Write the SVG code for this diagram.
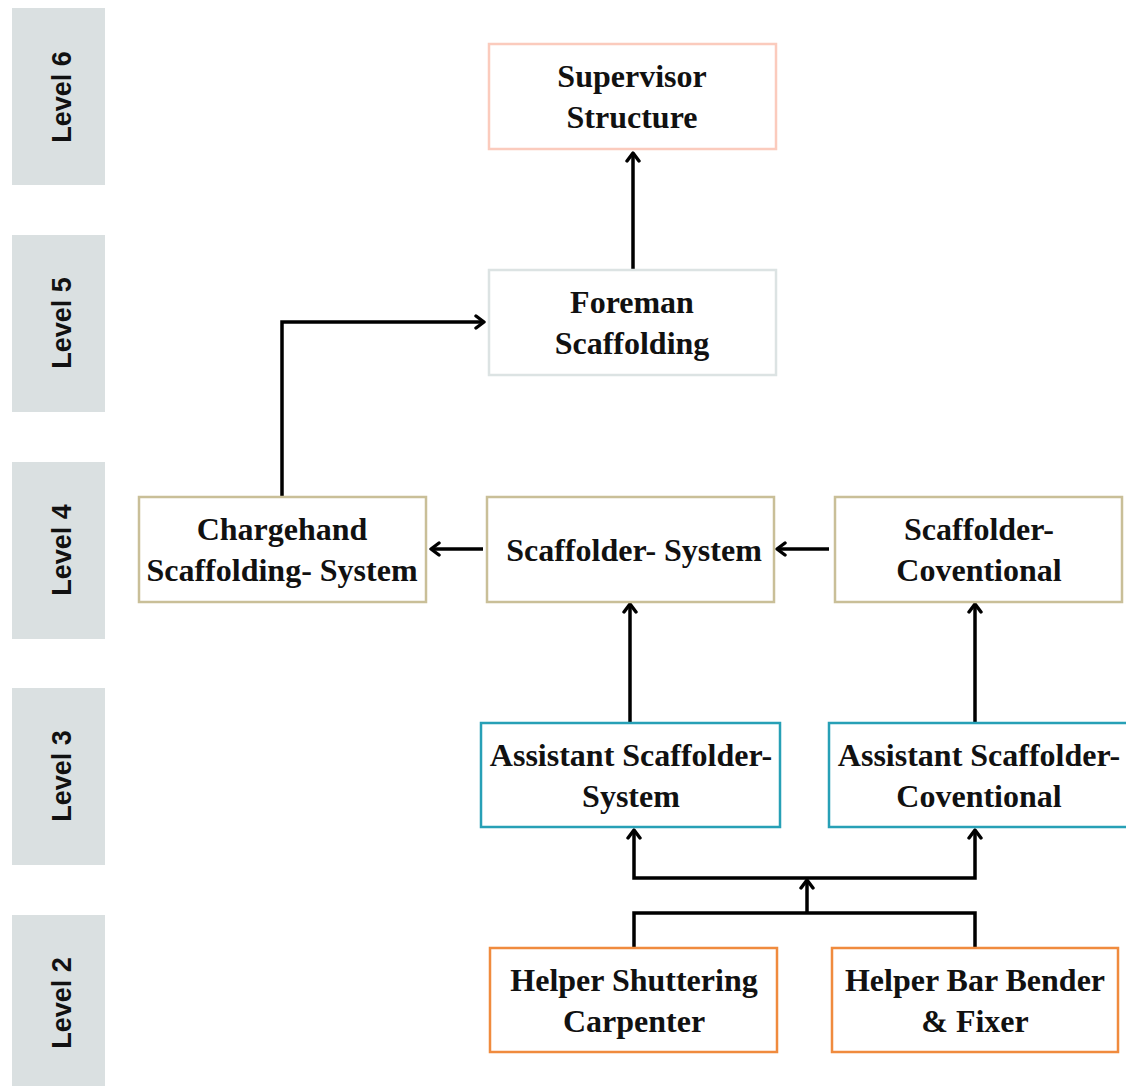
<svg xmlns="http://www.w3.org/2000/svg" width="1126" height="1086" viewBox="0 0 1126 1086">
<style>
.band{fill:#dae0e1}
.lvl{font-family:"Liberation Sans",Arial,sans-serif;font-weight:bold;font-size:27px;fill:#111;text-anchor:middle}
.box{fill:#fff;stroke-width:2.5}
.t{font-family:"Liberation Serif","Times New Roman",serif;font-weight:bold;font-size:32px;fill:#111;text-anchor:middle}
.c{fill:none;stroke:#000;stroke-width:3.5}
</style>
<defs>
<marker id="ah" viewBox="0 0 16 16" refX="13" refY="8" markerWidth="16" markerHeight="16" markerUnits="userSpaceOnUse" orient="auto">
<path d="M5,2 L13,8 L5,14" fill="none" stroke="#000" stroke-width="3.4" stroke-linecap="round" stroke-linejoin="round"/>
</marker>
</defs>
<rect width="1126" height="1086" fill="#fff"/>
<g id="levels">
<rect class="band" x="12" y="8" width="93" height="177"/>
<text class="lvl" transform="translate(71,97) rotate(-90)">Level 6</text>
<rect class="band" x="12" y="235" width="93" height="177"/>
<text class="lvl" transform="translate(71,323) rotate(-90)">Level 5</text>
<rect class="band" x="12" y="462" width="93" height="177"/>
<text class="lvl" transform="translate(71,550) rotate(-90)">Level 4</text>
<rect class="band" x="12" y="688" width="93" height="177"/>
<text class="lvl" transform="translate(71,776) rotate(-90)">Level 3</text>
<rect class="band" x="12" y="915" width="93" height="171"/>
<text class="lvl" transform="translate(71,1003) rotate(-90)">Level 2</text>
</g>
<g id="connectors">
<path class="c" d="M633,269 L633,153" marker-end="url(#ah)"/>
<path class="c" d="M282,496 L282,322 L484,322" marker-end="url(#ah)"/>
<path class="c" d="M483,549 L431,549" marker-end="url(#ah)"/>
<path class="c" d="M829,549 L777,549" marker-end="url(#ah)"/>
<path class="c" d="M630,722 L630,604" marker-end="url(#ah)"/>
<path class="c" d="M975,722 L975,604" marker-end="url(#ah)"/>
<path class="c" d="M634,947 L634,913 L975,913 L975,947"/>
<path class="c" d="M807,913 L807,880" marker-end="url(#ah)"/>
<path class="c" d="M807,878 L634,878 L634,830" marker-end="url(#ah)"/>
<path class="c" d="M807,878 L975,878 L975,830" marker-end="url(#ah)"/>
</g>
<g id="supervisor">
<rect class="box" x="489" y="44" width="287" height="105" stroke="#fbcbbd"/>
<text class="t" x="632" y="87">Supervisor</text>
<text class="t" x="632" y="128">Structure</text>
</g>
<g id="foreman">
<rect class="box" x="489" y="270" width="287" height="105" stroke="#dce3e3"/>
<text class="t" x="632" y="313">Foreman</text>
<text class="t" x="632" y="354">Scaffolding</text>
</g>
<g id="chargehand">
<rect class="box" x="139" y="497" width="287" height="105" stroke="#c9bf98"/>
<text class="t" x="282" y="540">Chargehand</text>
<text class="t" x="282" y="581">Scaffolding- System</text>
</g>
<g id="scaffolder-system">
<rect class="box" x="487" y="497" width="287" height="105" stroke="#c9bf98"/>
<text class="t" x="634" y="561">Scaffolder- System</text>
</g>
<g id="scaffolder-conventional">
<rect class="box" x="835" y="497" width="287" height="105" stroke="#c9bf98"/>
<text class="t" x="979" y="540">Scaffolder-</text>
<text class="t" x="979" y="581">Coventional</text>
</g>
<g id="assistant-system">
<rect class="box" x="481" y="723" width="299" height="104" stroke="#27a0b6"/>
<text class="t" x="631" y="766">Assistant Scaffolder-</text>
<text class="t" x="631" y="807">System</text>
</g>
<g id="assistant-conventional">
<rect class="box" x="829" y="723" width="299" height="104" stroke="#27a0b6"/>
<text class="t" x="979" y="766">Assistant Scaffolder-</text>
<text class="t" x="979" y="807">Coventional</text>
</g>
<g id="helper-shuttering">
<rect class="box" x="490" y="948" width="287" height="104" stroke="#f08b3e"/>
<text class="t" x="634" y="991">Helper Shuttering</text>
<text class="t" x="634" y="1032">Carpenter</text>
</g>
<g id="helper-bar">
<rect class="box" x="832" y="948" width="286" height="104" stroke="#f08b3e"/>
<text class="t" x="975" y="991">Helper Bar Bender</text>
<text class="t" x="975" y="1032">&amp; Fixer</text>
</g>
</svg>
